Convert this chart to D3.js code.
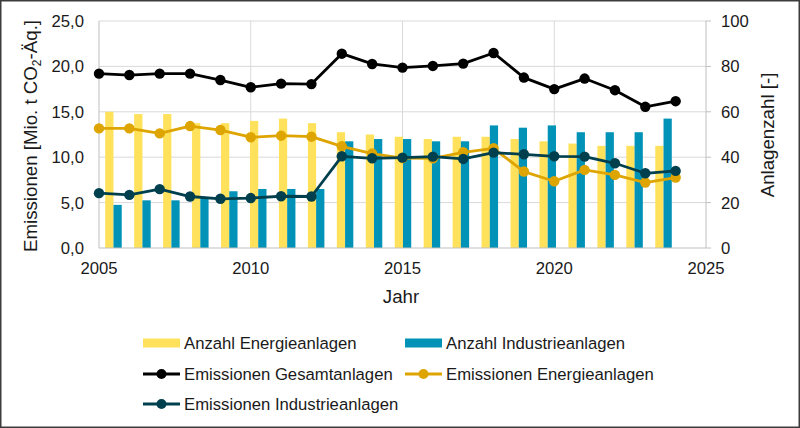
<!DOCTYPE html>
<html>
<head>
  <meta charset="utf-8">
  <style>
    body { margin: 0; background: #fff; }
    svg text { font-family: "Liberation Sans", Arial, sans-serif; fill: #1a1a1a; }
  </style>
</head>
<body>
  <script src="https://cdn.jsdelivr.net/npm/d3@7/dist/d3.min.js"></script>
  <script>
    // data
    var years = [2005, 2006, 2007, 2008, 2009, 2010, 2011, 2012, 2013, 2014,
                 2015, 2016, 2017, 2018, 2019, 2020, 2021, 2022, 2023, 2024]
    var emGesamt = [19.2, 19.05, 19.2, 19.2, 18.5, 17.7, 18.1, 18.05, 21.4, 20.27,
                    19.87, 20.05, 20.31, 21.48, 18.77, 17.5, 18.66, 17.38, 15.55, 16.17]
    var emEnergie = [13.17, 13.17, 12.62, 13.43, 12.99, 12.2, 12.37, 12.26, 11.2, 10.4,
                     9.9, 9.88, 10.54, 10.98, 8.42, 7.35, 8.6, 8.05, 7.21, 7.76]
    var emIndustrie = [6.04, 5.85, 6.48, 5.67, 5.42, 5.5, 5.7, 5.67, 10.1, 9.88,
                       9.95, 10.06, 9.81, 10.5, 10.32, 10.1, 10.06, 9.33, 8.23, 8.49]
    var anzahlEnergie = [60, 59, 59, 55, 55, 56, 57, 55, 51, 50,
                         49, 48, 49, 49, 48, 47, 46, 45, 45, 45]
    var anzahlIndustrie = [19, 21, 21, 22, 25, 26, 26, 26, 47, 48,
                           48, 47, 47, 54, 53, 54, 51, 51, 51, 57]
    var xTicks = [2005, 2010, 2015, 2020, 2025]
    var yLeftTicks = [0, 5, 10, 15, 20, 25]
    var yRightTicks = [0, 20, 40, 60, 80, 100]

    var w = 800
    var h = 428
    // plot box (window.top is reserved, so prefixed names)
    var pLeft = 99, pRight = 706, pTop = 21, pBottom = 248
    var fs = "16.7px"

    var colEnergieBar = "#ffe15b"
    var colIndustrieBar = "#0093b7"
    var colGesamt = "#000000"
    var colEnergie = "#dea500"
    var colIndustrie = "#00404e"
    var gridCol = "#d9d9d9"

    var x = d3.scaleLinear().domain([2005, 2025]).range([pLeft, pRight])
    var yL = d3.scaleLinear().domain([0, 25]).range([pBottom, pTop])
    var yR = d3.scaleLinear().domain([0, 100]).range([pBottom, pTop])

    // bars sit on their own category axis
    var xb = d3.scaleBand().domain(years).range([pLeft, 678])
               .paddingInner(0.43).paddingOuter(0.215)
    var bw = xb.bandwidth() / 2

    var svg = d3.select("body").append("svg")
                .attr("width", w)
                .attr("height", h)

    svg.append("rect")
       .attr("x", 0.75).attr("y", 0.75)
       .attr("width", w - 1.5).attr("height", h - 1.5)
       .attr("fill", "#fff")
       .attr("stroke", "#3c3c3c")
       .attr("stroke-width", 1.5)

    // gridlines
    svg.append("g").selectAll("line")
       .data(yLeftTicks.slice(1))
       .enter().append("line")
       .attr("x1", pLeft).attr("x2", pRight)
       .attr("y1", function(d) { return yL(d) }).attr("y2", function(d) { return yL(d) })
       .attr("stroke", gridCol).attr("stroke-width", 1)

    svg.append("g").selectAll("line")
       .data(xTicks.slice(1, -1))
       .enter().append("line")
       .attr("x1", function(d) { return x(d) }).attr("x2", function(d) { return x(d) })
       .attr("y1", pTop).attr("y2", pBottom)
       .attr("stroke", gridCol).attr("stroke-width", 1)

    // bars
    svg.append("g").selectAll("rect")
       .data(years)
       .enter().append("rect")
       .attr("x", function(d) { return xb(d) })
       .attr("y", function(d, i) { return yR(anzahlEnergie[i]) })
       .attr("width", bw)
       .attr("height", function(d, i) { return pBottom - yR(anzahlEnergie[i]) })
       .attr("fill", colEnergieBar)

    svg.append("g").selectAll("rect")
       .data(years)
       .enter().append("rect")
       .attr("x", function(d) { return xb(d) + bw })
       .attr("y", function(d, i) { return yR(anzahlIndustrie[i]) })
       .attr("width", bw)
       .attr("height", function(d, i) { return pBottom - yR(anzahlIndustrie[i]) })
       .attr("fill", colIndustrieBar)

    // axis lines
    var axisCol = "#bfbfbf"
    svg.append("line").attr("x1", pLeft).attr("x2", pLeft).attr("y1", pTop).attr("y2", pBottom)
       .attr("stroke", axisCol)
    svg.append("line").attr("x1", pRight).attr("x2", pRight).attr("y1", pTop).attr("y2", pBottom)
       .attr("stroke", axisCol)
    svg.append("line").attr("x1", pLeft).attr("x2", pRight).attr("y1", pBottom).attr("y2", pBottom)
       .attr("stroke", axisCol)
    svg.append("g").selectAll("line")
       .data(yRightTicks)
       .enter().append("line")
       .attr("x1", pRight).attr("x2", pRight + 5)
       .attr("y1", function(d) { return yR(d) }).attr("y2", function(d) { return yR(d) })
       .attr("stroke", axisCol)

    // lines + markers
    function addSeries(vals, col) {
      var line = d3.line()
                   .x(function(d, i) { return x(years[i]) })
                   .y(function(d) { return yL(d) })
      svg.append("path")
         .datum(vals)
         .attr("d", line)
         .attr("fill", "none")
         .attr("stroke", col)
         .attr("stroke-width", 2.8)
         .attr("stroke-linejoin", "round")
      svg.append("g").selectAll("circle")
         .data(vals)
         .enter().append("circle")
         .attr("cx", function(d, i) { return x(years[i]) })
         .attr("cy", function(d) { return yL(d) })
         .attr("r", 5.2)
         .attr("fill", col)
    }
    addSeries(emGesamt, colGesamt)
    addSeries(emEnergie, colEnergie)
    addSeries(emIndustrie, colIndustrie)

    // tick labels
    var fmt = function(d) { return d3.format(".1f")(d).replace(".", ",") }
    svg.append("g").selectAll("text")
       .data(yLeftTicks)
       .enter().append("text")
       .attr("x", 84).attr("y", function(d) { return yL(d) + 6 })
       .attr("text-anchor", "end")
       .attr("font-size", fs)
       .text(fmt)

    svg.append("g").selectAll("text")
       .data(yRightTicks)
       .enter().append("text")
       .attr("x", 721).attr("y", function(d) { return yR(d) + 6 })
       .attr("font-size", fs)
       .text(function(d) { return d })

    svg.append("g").selectAll("text")
       .data(xTicks)
       .enter().append("text")
       .attr("x", function(d) { return x(d) }).attr("y", 274)
       .attr("text-anchor", "middle")
       .attr("font-size", fs)
       .text(function(d) { return d })

    // axis titles
    var yt = svg.append("text")
       .attr("transform", "translate(37,136) rotate(-90)")
       .attr("text-anchor", "middle")
       .attr("font-size", "18.7px")
    yt.append("tspan").text("Emissionen [Mio. t CO")
    yt.append("tspan").attr("font-size", "12px").attr("dy", 4).text("2")
    yt.append("tspan").attr("dy", -4).text("-Äq.]")

    svg.append("text")
       .attr("transform", "translate(774,135) rotate(-90)")
       .attr("text-anchor", "middle")
       .attr("font-size", "18.7px")
       .text("Anlagenzahl [-]")

    svg.append("text")
       .attr("x", 401).attr("y", 303)
       .attr("text-anchor", "middle")
       .attr("font-size", "18.7px")
       .text("Jahr")

    // legend
    var legend = [
      { name: "Anzahl Energieanlagen", col: colEnergieBar, bar: true, lx: 143, ly: 343 },
      { name: "Anzahl Industrieanlagen", col: colIndustrieBar, bar: true, lx: 405, ly: 343 },
      { name: "Emissionen Gesamtanlagen", col: colGesamt, bar: false, lx: 143, ly: 374 },
      { name: "Emissionen Energieanlagen", col: colEnergie, bar: false, lx: 405, ly: 374 },
      { name: "Emissionen Industrieanlagen", col: colIndustrie, bar: false, lx: 143, ly: 404 }
    ]
    var lg = svg.append("g").selectAll("g")
       .data(legend)
       .enter().append("g")
       .attr("transform", function(d) { return "translate(" + d.lx + "," + d.ly + ")" })

    lg.filter(function(d) { return d.bar }).append("rect")
      .attr("x", 0).attr("y", -4.5).attr("width", 37).attr("height", 9)
      .attr("fill", function(d) { return d.col })
    lg.filter(function(d) { return !d.bar }).append("line")
      .attr("x1", 0).attr("x2", 37).attr("y1", 0).attr("y2", 0)
      .attr("stroke", function(d) { return d.col }).attr("stroke-width", 2.8)
    lg.filter(function(d) { return !d.bar }).append("circle")
      .attr("cx", 18.5).attr("cy", 0).attr("r", 5)
      .attr("fill", function(d) { return d.col })
    lg.append("text")
      .attr("x", 41).attr("y", 6)
      .attr("font-size", fs)
      .text(function(d) { return d.name })
  </script>
</body>
</html>
